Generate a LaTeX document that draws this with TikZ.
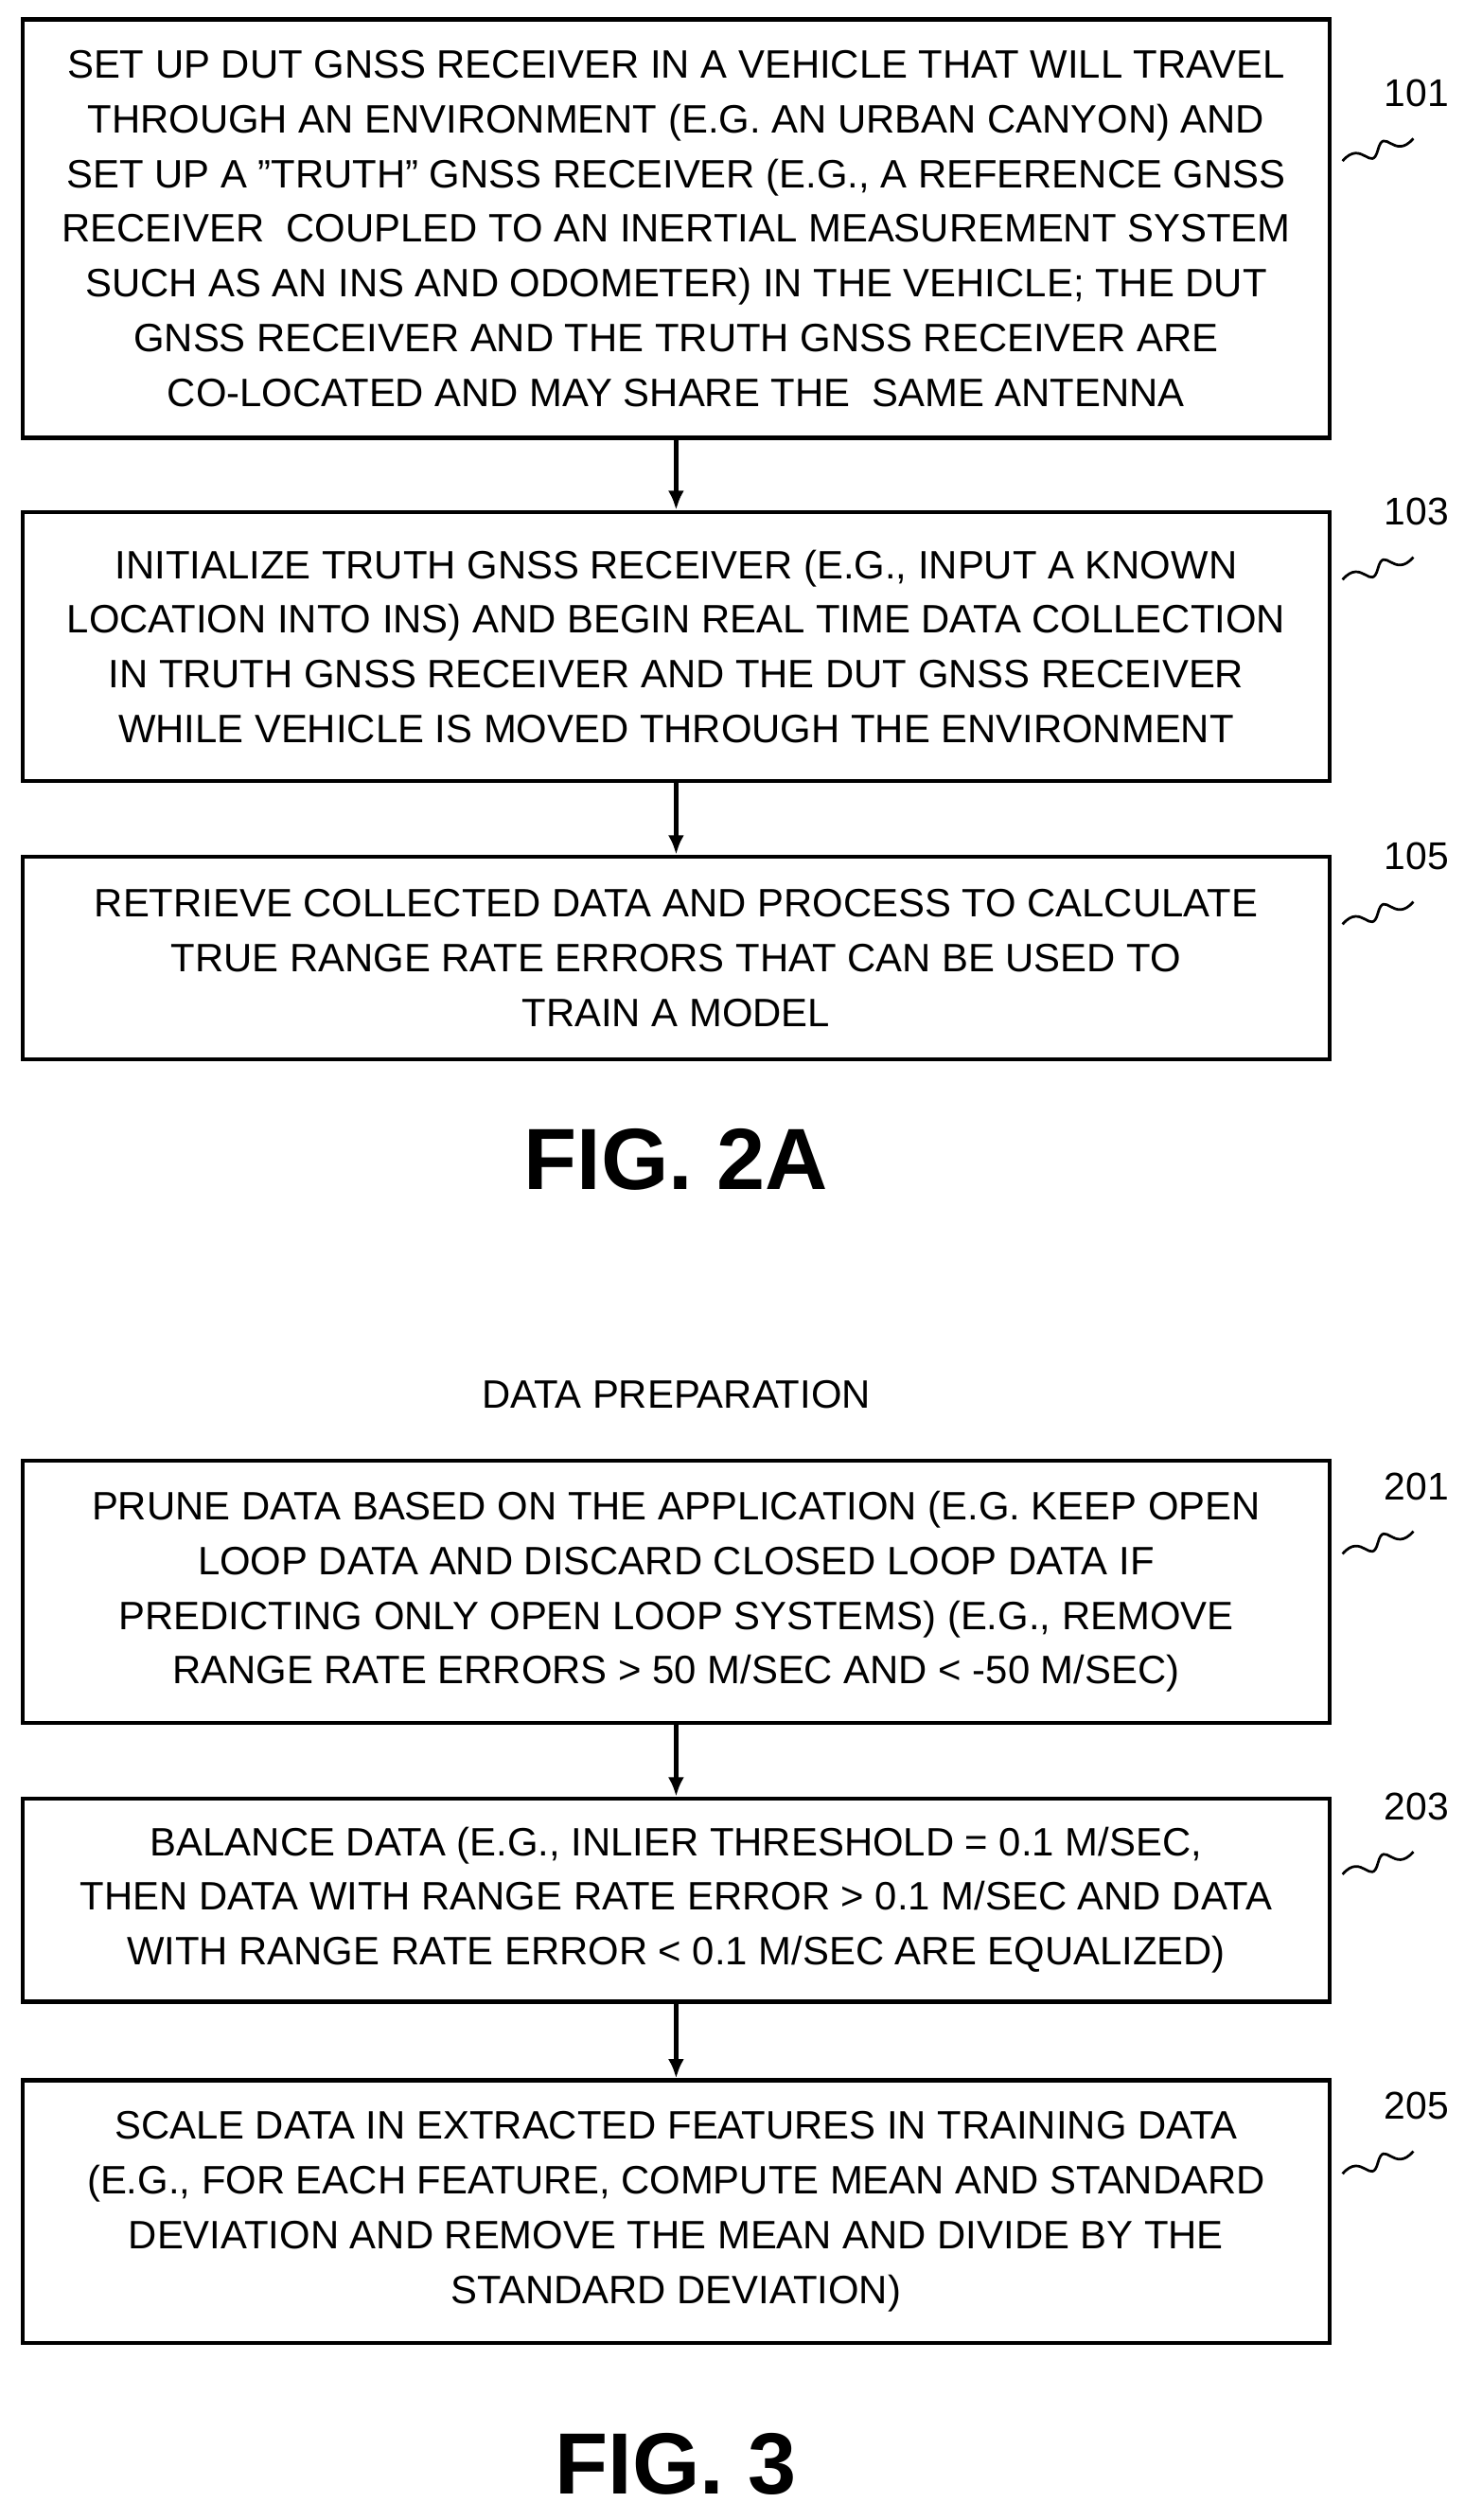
\documentclass[tikz,border=0pt]{standalone}
\usepackage{fontspec}
\setmainfont{Liberation Sans}
\usetikzlibrary{arrows.meta,calc}
\begin{document}
\begin{tikzpicture}[x=0.5pt,y=-0.5pt,
  box/.style={draw,line width=1.3pt,inner sep=0pt,align=center,font=\fontsize{12.3}{17}\selectfont},
  arr/.style={-{Latex[length=6pt,width=5pt]},line width=1.3pt},
  lab/.style={font=\fontsize{12}{14}\selectfont},
  sq/.style={line width=0.8pt}]
\useasboundingbox (0,0) rectangle (910,1565);
\newcommand{\bx}[4]{\node[box,minimum width=812*0.5pt,minimum height={(#3-#2)*0.5pt}] (#1) at (420,{(#2+#3)/2}) {#4};}
\bx{b101}{12}{272}{SET UP DUT GNSS RECEIVER IN A VEHICLE THAT WILL TRAVEL\\THROUGH AN ENVIRONMENT (E.G. AN URBAN CANYON) AND\\SET UP A "TRUTH" GNSS RECEIVER (E.G., A REFERENCE GNSS\\RECEIVER\ \ COUPLED TO AN INERTIAL MEASUREMENT SYSTEM\\SUCH AS AN INS AND ODOMETER) IN THE VEHICLE; THE DUT\\GNSS RECEIVER AND THE TRUTH GNSS RECEIVER ARE\\CO-LOCATED AND MAY SHARE THE\ \ SAME ANTENNA}
\bx{b103}{318}{485}{INITIALIZE TRUTH GNSS RECEIVER (E.G., INPUT A KNOWN\\LOCATION INTO INS) AND BEGIN REAL TIME DATA COLLECTION\\IN TRUTH GNSS RECEIVER AND THE DUT GNSS RECEIVER\\WHILE VEHICLE IS MOVED THROUGH THE ENVIRONMENT}
\bx{b105}{532}{658}{RETRIEVE COLLECTED DATA AND PROCESS TO CALCULATE\\TRUE RANGE RATE ERRORS THAT CAN BE USED TO\\TRAIN A MODEL}
\bx{b201}{907}{1070}{PRUNE DATA BASED ON THE APPLICATION (E.G. KEEP OPEN\\LOOP DATA AND DISCARD CLOSED LOOP DATA IF\\PREDICTING ONLY OPEN LOOP SYSTEMS) (E.G., REMOVE\\RANGE RATE ERRORS > 50 M/SEC AND < -50 M/SEC)}
\bx{b203}{1117}{1243}{BALANCE DATA (E.G., INLIER THRESHOLD = 0.1 M/SEC,\\THEN DATA WITH RANGE RATE ERROR > 0.1 M/SEC AND DATA\\WITH RANGE RATE ERROR < 0.1 M/SEC ARE EQUALIZED)}
\bx{b205}{1292}{1455}{SCALE DATA IN EXTRACTED FEATURES IN TRAINING DATA\\(E.G., FOR EACH FEATURE, COMPUTE MEAN AND STANDARD\\DEVIATION AND REMOVE THE MEAN AND DIVIDE BY THE\\STANDARD DEVIATION)}
\draw[arr] (b101) -- (b103);
\draw[arr] (b103) -- (b105);
\draw[arr] (b201) -- (b203);
\draw[arr] (b203) -- (b205);
\node[font=\fontsize{27}{30}\selectfont\bfseries] (f2a) at (420,720) {FIG. 2A};
\node[font=\fontsize{27}{30}\selectfont\bfseries] (f3) at (420,1530) {FIG. 3};
\node[font=\fontsize{12.3}{14}\selectfont] (dp) at (420,866) {DATA PREPARATION};
\foreach \n/\y in {101/58,103/318,105/532,201/923,203/1122,205/1308}{
  \node[lab] (l\n) at (880,\y) {\n};
  \coordinate (s\n a) at (834,\y+42);
  \coordinate (s\n b) at (878,\y+28);
  \coordinate (s\n m) at ($(s\n a)!0.5!(s\n b)$);
  \draw[sq] (s\n a) .. controls ($(s\n a)+(12,-14)$) and ($(s\n a)+(18,8)$) .. (s\n m) .. controls ($(s\n b)+(-18,-8)$) and ($(s\n b)+(-12,14)$) .. (s\n b);
}
\end{tikzpicture}
\end{document}
